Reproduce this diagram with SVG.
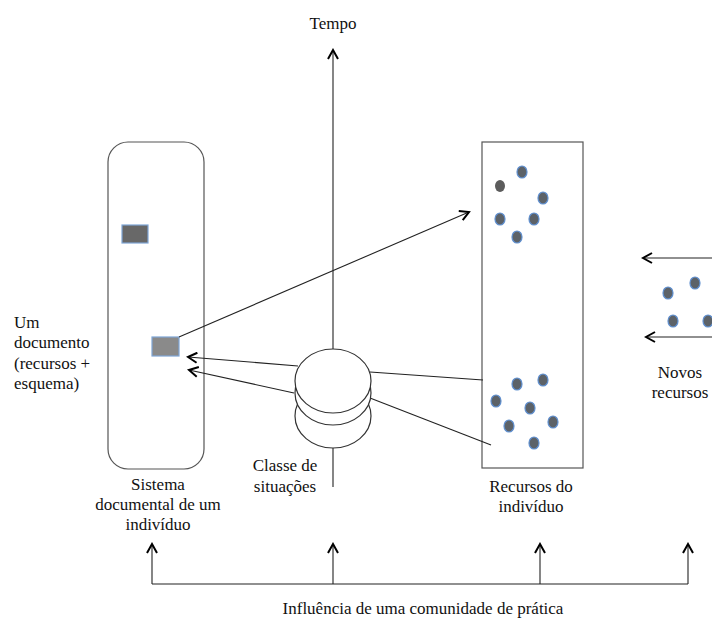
<svg xmlns="http://www.w3.org/2000/svg" width="712" height="619" viewBox="0 0 712 619">
<defs>
<marker id="ah" viewBox="0 0 12 12" refX="10" refY="6" markerWidth="12" markerHeight="12" markerUnits="userSpaceOnUse" orient="auto">
<path d="M1,1 L10,6 L1,11" fill="none" stroke="#000" stroke-width="2"/>
</marker>
<filter id="blur" x="-50%" y="-50%" width="200%" height="200%"><feGaussianBlur stdDeviation="0.6"/></filter>
</defs>
<style>
text{font-family:"Liberation Serif","Times New Roman",serif;font-size:17px;fill:#111}
.c{text-anchor:middle}
.box{fill:none;stroke:#555;stroke-width:1.2}
.ln{stroke:#222;stroke-width:1.1;fill:none}
.arr{stroke:#222;stroke-width:1.1;fill:none;marker-end:url(#ah)}
.dot{fill:#5c6268;stroke:#5f8fcf;stroke-width:1.2;filter:url(#blur)}
.cyl{fill:#fff;stroke:#333;stroke-width:1.2}
</style>
<rect width="712" height="619" fill="#fff"/>

<g id="sistema">
<rect class="box" x="108" y="142" width="96" height="327" rx="20" ry="20"/>
<rect x="122" y="225" width="26" height="18" fill="#676767" stroke="#7fa6d6" stroke-width="1.2" filter="url(#blur)"/>
<rect x="152" y="337" width="27" height="19" fill="#8a8a8a" stroke="#7fa6d6" stroke-width="1.2" filter="url(#blur)"/>
<text class="c" x="158" y="490">Sistema</text>
<text class="c" x="158" y="510">documental de um</text>
<text class="c" x="158" y="530">indivíduo</text>
</g>

<g id="recursos">
<rect class="box" x="482" y="142" width="101" height="326"/>
<ellipse cx="500" cy="186" rx="5" ry="6" fill="#5c5c5c" filter="url(#blur)"/>
<ellipse class="dot" cx="522" cy="172" rx="5" ry="6"/>
<ellipse class="dot" cx="543" cy="198" rx="5" ry="6"/>
<ellipse class="dot" cx="500" cy="219" rx="5" ry="6"/>
<ellipse class="dot" cx="534" cy="219" rx="5" ry="6"/>
<ellipse class="dot" cx="517" cy="237" rx="5" ry="6"/>
<ellipse class="dot" cx="517" cy="384" rx="5" ry="6"/>
<ellipse class="dot" cx="543" cy="380" rx="5" ry="6"/>
<ellipse class="dot" cx="496" cy="401" rx="5" ry="6"/>
<ellipse class="dot" cx="530" cy="408" rx="5" ry="6"/>
<ellipse class="dot" cx="553" cy="422" rx="5" ry="6"/>
<ellipse class="dot" cx="509" cy="426" rx="5" ry="6"/>
<ellipse class="dot" cx="534" cy="443" rx="5" ry="6"/>
<text class="c" x="531" y="492">Recursos do</text>
<text class="c" x="531" y="512">indivíduo</text>
</g>

<g id="connectors">
<line class="arr" x1="333" y1="487" x2="333" y2="50"/>
<line class="arr" x1="179" y1="337" x2="469" y2="212"/>
<line class="arr" x1="298" y1="366" x2="188" y2="357"/>
<line class="arr" x1="294" y1="393" x2="189" y2="370"/>
<line class="ln" x1="370" y1="372" x2="483" y2="380"/>
<line class="ln" x1="370" y1="398" x2="491" y2="445"/>
<line class="arr" x1="712" y1="258" x2="643" y2="258"/>
<line class="arr" x1="712" y1="337" x2="646" y2="337"/>
<polyline class="ln" points="152,584 688,584"/>
<line class="arr" x1="152" y1="584" x2="152" y2="544"/>
<line class="arr" x1="333" y1="584" x2="333" y2="544"/>
<line class="arr" x1="540" y1="584" x2="540" y2="544"/>
<line class="arr" x1="688" y1="584" x2="688" y2="544"/>
</g>

<g id="documento">
<text x="14" y="328">Um</text>
<text x="14" y="348">documento</text>
<text x="14" y="369">(recursos +</text>
<text x="14" y="389">esquema)</text>
</g>

<g id="tempo">
<text class="c" x="333" y="29">Tempo</text>
</g>

<g id="classe">
<ellipse class="cyl" cx="333" cy="416" rx="38" ry="32"/>
<ellipse class="cyl" cx="333" cy="393" rx="38" ry="32"/>
<ellipse class="cyl" cx="333" cy="381" rx="38" ry="32"/>
<text class="c" x="285" y="471">Classe de</text>
<text class="c" x="285" y="492">situações</text>
</g>

<g id="novos">
<ellipse class="dot" cx="668" cy="293" rx="5" ry="6"/>
<ellipse class="dot" cx="695" cy="283" rx="5" ry="6"/>
<ellipse class="dot" cx="673" cy="321" rx="5" ry="6"/>
<ellipse class="dot" cx="708" cy="321" rx="5" ry="6"/>
<text class="c" x="680" y="378">Novos</text>
<text class="c" x="680" y="398">recursos</text>
</g>

<g id="influencia">
<text class="c" x="423" y="614">Influência de uma comunidade de prática</text>
</g>
</svg>
